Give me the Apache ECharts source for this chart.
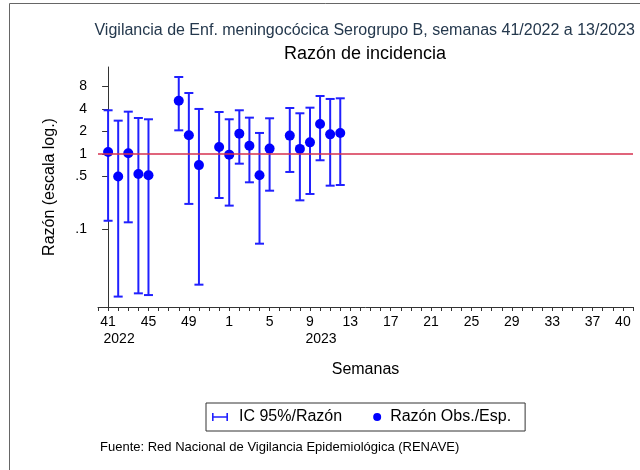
<!DOCTYPE html>
<html>
<head>
<meta charset="utf-8">
<title>Razón de incidencia</title>
<script src="https://cdn.jsdelivr.net/npm/echarts@6/dist/echarts.min.js"></script>
<style>
  html, body { margin: 0; padding: 0; background: #fff; }
  #chart { width: 640px; height: 470px; }
</style>
</head>
<body>
<div id="chart"></div>
<script>
// semanas 41/2022 .. 40/2023 (eje x)
const weekLabels = ['41', '42', '43', '44', '45', '46', '47', '48', '49', '50', '51', '52',
    '1', '2', '3', '4', '5', '6', '7', '8', '9', '10', '11', '12', '13', '14', '15', '16',
    '17', '18', '19', '20', '21', '22', '23', '24', '25', '26', '27', '28', '29', '30',
    '31', '32', '33', '34', '35', '36', '37', '38', '39', '40']
const shownWeeks = ['41', '45', '49', '1', '5', '9', '13', '17', '21', '25', '29', '33', '37', '40']
const yearWeeks = ['41', '9']
const yearLabels = ['2022', '2023']

// semanas con dato
const obsWeeks = ['41', '42', '43', '44', '45', '48', '49', '50', '52', '1',
    '2', '3', '4', '5', '7', '8', '9', '10', '11', '12']
const ratio = [1.06, 0.50, 1.02, 0.54, 0.52, 5.16, 1.78, 0.71, 1.24, 0.98,
    1.87, 1.29, 0.52, 1.18, 1.76, 1.17, 1.43, 2.52, 1.83, 1.91]
const lower = [0.128, 0.0124, 0.122, 0.0137, 0.013, 2.07, 0.215, 0.0179, 0.258, 0.204,
    0.742, 0.418, 0.0632, 0.323, 0.575, 0.24, 0.292, 0.824, 0.377, 0.385]
const upper = [3.84, 2.79, 3.68, 3.03, 2.91, 10.7, 6.54, 4.0, 3.64, 2.91,
    3.84, 3.06, 1.91, 3.0, 4.12, 3.5, 4.16, 5.96, 5.44, 5.55]

const yTicks = [0.1, 0.5, 1, 2, 4, 8]
const yTickLabels = ['.1', '.5', '1', '2', '4', '8']

const blue = '#0000ff'
const ciBlue = '#2020ff'
const font = '"Liberation Sans", Arial, sans-serif'

const pointData = []
const ciData = []
for (let i = 0; i < obsWeeks.length; i++) {
    const x = weekLabels.indexOf(obsWeeks[i])
    pointData.push([x, ratio[i]])
    ciData.push([x, lower[i], upper[i]])
}

const chart = echarts.init(document.getElementById('chart'))

const option = {
    animation: false,
    backgroundColor: '#fff',
    textStyle: { fontFamily: font },
    title: [
        {
            text: 'Vigilancia de Enf. meningocócica Serogrupo B, semanas 41/2022 a 13/2023',
            right: 5,
            top: 23,
            padding: 0,
            textStyle: { fontSize: 16, fontWeight: 'normal', color: '#24384d' }
        },
        {
            text: 'Razón de incidencia',
            left: 365,
            textAlign: 'center',
            top: 45,
            padding: 0,
            textStyle: { fontSize: 18, fontWeight: 'normal', color: '#000' }
        },
        {
            text: 'Fuente: Red Nacional de Vigilancia Epidemiológica (RENAVE)',
            left: 100,
            top: 441,
            padding: 0,
            textStyle: { fontSize: 13, fontWeight: 'normal', color: '#000' }
        }
    ],
    graphic: [
        {
            type: 'rect',
            shape: { x: 9.5, y: 3.5, width: 700, height: 500 },
            style: { fill: 'none', stroke: '#666', lineWidth: 1 },
            silent: true
        }
    ],
    legend: {
        left: 206,
        top: 403,
        padding: [6, 14, 6, 6],
        itemGap: 19,
        itemWidth: 20,
        itemHeight: 8,
        borderColor: '#333',
        borderWidth: 1,
        borderRadius: 0,
        selectedMode: false,
        textStyle: { fontSize: 16, color: '#000', padding: [0, 0, 0, 4] },
        data: [
            { name: 'IC 95%/Razón', icon: 'path://M0,0h2v10h-2z M2,4.2h16v1.6h-16z M18,0h2v10h-2z' },
            { name: 'Razón Obs./Esp.', icon: 'path://M0,4L0.01,4 M12,4a4,4 0 1,0 8,0a4,4 0 1,0 -8,0z' }
        ]
    },
    grid: {
        left: 98,
        right: 7,
        top: 67,
        bottom: 163
    },
    xAxis: {
        type: 'value',
        min: -1,
        max: 52,
        interval: 1,
        name: 'Semanas',
        nameLocation: 'middle',
        nameGap: 55,
        nameTextStyle: { fontSize: 16, color: '#000' },
        axisLine: { lineStyle: { color: '#333', width: 1 } },
        axisTick: { length: 4, lineStyle: { color: '#333' } },
        splitLine: { show: false },
        axisLabel: {
            margin: 7,
            fontSize: 14,
            color: '#000',
            formatter: function (v) {
                const w = weekLabels[v]
                if (w === undefined || shownWeeks.indexOf(w) < 0) return ''
                const yi = yearWeeks.indexOf(w)
                if (yi >= 0) return '{w|' + w + '}\n{y|' + yearLabels[yi] + '}'
                return '{w|' + w + '}'
            },
            rich: {
                w: { fontSize: 14, lineHeight: 17, color: '#000' },
                y: { fontSize: 14, lineHeight: 17, color: '#000', padding: [0, 0, 0, 22] }
            }
        }
    },
    yAxis: {
        type: 'log',
        logBase: 10,
        min: 0.009,
        max: 14.55,
        name: 'Razón (escala log.)',
        nameLocation: 'middle',
        nameGap: 40,
        nameTextStyle: { fontSize: 16, color: '#000' },
        axisLine: { show: true, lineStyle: { color: '#333', width: 1 } },
        axisTick: { show: true, length: 6, customValues: yTicks, lineStyle: { color: '#333' } },
        splitLine: { show: false },
        minorTick: { show: false },
        axisLabel: {
            margin: 11,
            fontSize: 14,
            color: '#000',
            customValues: yTicks,
            formatter: function (v) {
                const i = yTicks.indexOf(v)
                return i >= 0 ? yTickLabels[i] : ''
            }
        }
    },
    series: [
        {
            name: 'IC 95%/Razón',
            type: 'custom',
            itemStyle: { color: ciBlue },
            data: ciData,
            encode: { x: 0, y: [1, 2] },
            renderItem: function (params, api) {
                const x = api.value(0)
                const lo = api.coord([x, api.value(1)])
                const hi = api.coord([x, api.value(2)])
                const hw = 4.5
                const style = { stroke: ciBlue, lineWidth: 2 }
                return {
                    type: 'group',
                    children: [
                        { type: 'line', shape: { x1: lo[0], y1: lo[1], x2: hi[0], y2: hi[1] }, style: style },
                        { type: 'line', shape: { x1: lo[0] - hw, y1: lo[1], x2: lo[0] + hw, y2: lo[1] }, style: style },
                        { type: 'line', shape: { x1: hi[0] - hw, y1: hi[1], x2: hi[0] + hw, y2: hi[1] }, style: style }
                    ]
                }
            },
            markLine: {
                silent: true,
                symbol: 'none',
                label: { show: false },
                lineStyle: { color: '#d6304f', width: 1.5, type: 'solid' },
                data: [{ yAxis: 1 }]
            }
        },
        {
            name: 'Razón Obs./Esp.',
            type: 'scatter',
            symbol: 'circle',
            symbolSize: 10,
            itemStyle: { color: blue, opacity: 1 },
            data: pointData
        }
    ]
}

chart.setOption(option)
</script>
</body>
</html>
